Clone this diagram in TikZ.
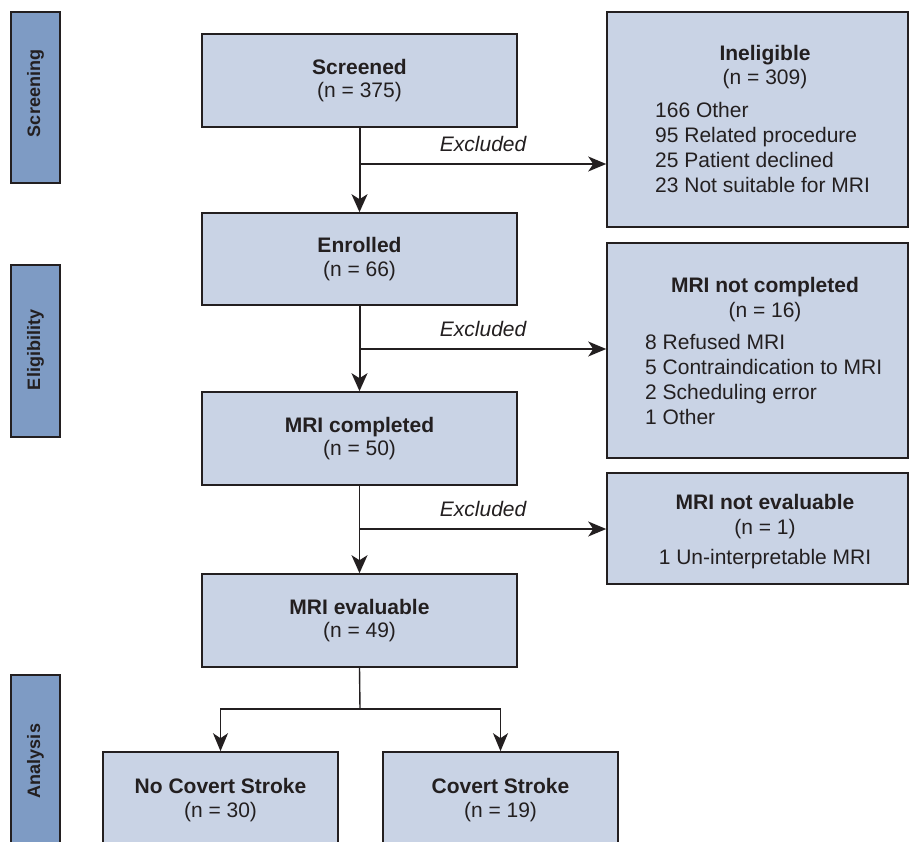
\documentclass[tikz,border=0pt]{standalone}
\usepackage{fontspec}
\setmainfont{Liberation Sans}
\usetikzlibrary{arrows.meta}
\definecolor{boxfill}{HTML}{C9D3E5}
\definecolor{bandfill}{HTML}{7E9BC4}
\definecolor{ink}{HTML}{231F20}

\begin{document}
\begin{tikzpicture}[x=1pt, y=-1pt,
    box/.style={draw=ink, line width=1.6pt, fill=boxfill, inner sep=0pt, align=center,
      text=ink, font=\fontsize{21}{23.5}\selectfont},
    band/.style={draw=ink, line width=1.6pt, fill=bandfill, minimum width=49pt, inner sep=0pt},
    phase/.style={rotate=90, inner sep=0pt, text=ink, font=\fontsize{18}{18}\selectfont\bfseries},
    head/.style={inner sep=0pt, align=center, text=ink, font=\fontsize{21}{24.5}\selectfont},
    item/.style={inner sep=0pt, text=ink, font=\fontsize{21}{24}\selectfont},
    excl/.style={above=12pt, inner sep=0pt, text=ink, font=\fontsize{21}{24}\selectfont\itshape},
    stem/.style={draw=ink, line width=2pt, -{Stealth[length=18pt, width=16pt, inset=5pt]}},
    side/.style={draw=ink, line width=1.4pt, -{Stealth[length=18pt, width=15pt, inset=5pt]}},
    plain/.style={draw=ink, line width=1.4pt}]

  \useasboundingbox (0,0) rectangle (910,842);
  \clip (0,0) rectangle (910,842);

  \newcommand\SX{360};

  %% phase bands
  \node[band, minimum height=171pt] (bscr) at (35.5,97.5) {};
  \node[band, minimum height=172pt] (belig) at (35.5,351) {};
  \node[band, minimum height=225pt] (bana) at (35.5,787.5) {};
  \node[phase] (lscr) at (35.5,93.5) {Screening};
  \node[phase] (lelig) at (35.5,350) {Eligibility};
  \node[phase] (lana) at (35.5,761) {Analysis};

  %% main column
  \node[box, minimum width=315pt, minimum height=93pt] (scr) at (359.5,80.5) {\textbf{Screened}\\(n = 375)};
  \node[box, minimum width=315pt, minimum height=92pt] (enr) at (359.5,259) {\textbf{Enrolled}\\(n = 66)};
  \node[box, minimum width=315pt, minimum height=93pt] (mric) at (359.5,438.5) {\textbf{MRI completed}\\(n = 50)};
  \node[box, minimum width=315pt, minimum height=93pt] (mrie) at (359.5,620.5) {\textbf{MRI evaluable}\\(n = 49)};

  \node[box, minimum width=235pt, minimum height=96pt] (ncs) at (220.5,800) {\textbf{No Covert Stroke}\\(n = 30)};
  \node[box, minimum width=235pt, minimum height=96pt] (cs) at (500.5,800) {\textbf{Covert Stroke}\\(n = 19)};

  %% exclusion column
  \node[box, minimum width=301pt, minimum height=215pt] (inel) at (757.5,119.5) {};
  \node[box, minimum width=301pt, minimum height=215pt] (notc) at (757.5,350.5) {};
  \node[box, minimum width=301pt, minimum height=111pt] (note) at (757.5,528.5) {};

  \node[head] (inel-t) at (765,67) {\textbf{Ineligible}\\(n = 309)};
  \foreach \t [count=\i] in {166 Other, 95 Related procedure, 25 Patient declined, 23 Not suitable for MRI}
    \node[item, anchor=base west] (inel-\i) at (655,92.5+25*\i) {\t};

  \node[head] (notc-t) at (765,299.5) {\textbf{MRI not completed}\\(n = 16)};
  \foreach \t [count=\i] in {8 Refused MRI, 5 Contraindication to MRI, 2 Scheduling error, 1 Other}
    \node[item, anchor=base west] (notc-\i) at (645,324.5+25*\i) {\t};

  \node[head] (note-t) at (765,516.5) {\textbf{MRI not evaluable}\\(n = 1)};
  \node[item, anchor=base] (note-1) at (765,564.5) {1 Un-interpretable MRI};

  %% flow
  \coordinate (ex1) at (\SX,164);
  \coordinate (ex2) at (\SX,349);
  \coordinate (ex3) at (\SX,529);
  \coordinate (split) at (\SX,709);

  \draw[stem] (scr.south) -- (enr.north); %% screened -> enrolled
  \draw[stem] (enr.south) -- (mric.north); %% enrolled -> completed
  \draw[stem, line width=1.6pt] (mric.south) -- (mrie.north); %% completed -> evaluable

  \draw[side] (ex1) -- (ex1 -| inel.west) node[excl, midway] {Excluded};
  \draw[side] (ex2) -- (ex2 -| notc.west) node[excl, midway] {Excluded};
  \draw[side] (ex3) -- (ex3 -| note.west) node[excl, midway] {Excluded};

  \draw[plain] (mrie.south) -- (split);
  \draw[side] (split) -| (ncs.north);
  \draw[side] (split) -| (cs.north);
\end{tikzpicture}
\end{document}
